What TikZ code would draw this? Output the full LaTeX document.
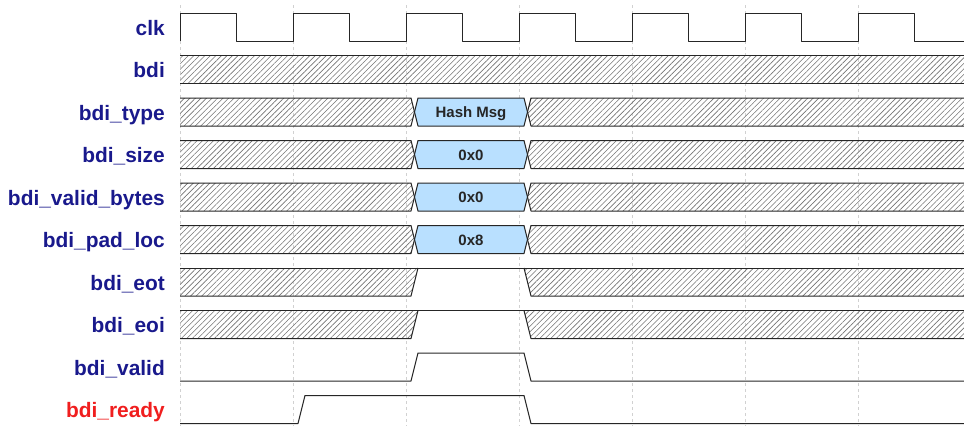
\documentclass[tikz,border=0pt]{standalone}
\usepackage{fontspec}
\setmainfont{Liberation Sans}
\usetikzlibrary{patterns.meta}
\definecolor{sigblue}{RGB}{25,25,140}
\definecolor{sigred}{RGB}{240,30,30}
\definecolor{busblue}{RGB}{185,224,255}

\begin{document}
\begin{tikzpicture}[x=1pt, y=-1pt,
    wire/.style={draw=black!85, line width=1pt, line join=round},
    hatch/.style={pattern={Lines[angle=45,distance=3.9pt,line width=0.6pt]}, pattern color=black!55},
    busdata/.style={fill=busblue, draw=black!85, line width=1pt, line join=round},
    sig/.style={anchor=base east, inner sep=0pt, text=sigblue, font=\fontsize{20.9}{24}\selectfont\bfseries},
    val/.style={anchor=base, inner sep=0pt, text=black!85, font=\fontsize{15}{18}\selectfont\bfseries},
    gridline/.style={draw=black!18, dash pattern=on 3pt off 3pt, line width=1pt}]
  \useasboundingbox (0,0) rectangle (964,426);

  % Cycle grid
  \draw[gridline] (180,5) -- (180,426);
  \draw[gridline] (293,5) -- (293,426);
  \draw[gridline] (406,5) -- (406,426);
  \draw[gridline] (519,5) -- (519,426);
  \draw[gridline] (632,5) -- (632,426);
  \draw[gridline] (745,5) -- (745,426);
  \draw[gridline] (858,5) -- (858,426);

  % Signal names
  \node[sig] (clk) at (165,35) {clk};
  \node[sig] (bdi) at (165,77.5) {bdi};
  \node[sig] (type) at (165,120) {bdi\_type};
  \node[sig] (size) at (165,162.5) {bdi\_size};
  \node[sig] (vbytes) at (165,205) {bdi\_valid\_bytes};
  \node[sig] (padloc) at (165,247.5) {bdi\_pad\_loc};
  \node[sig] (eot) at (165,290) {bdi\_eot};
  \node[sig] (eoi) at (165,332.5) {bdi\_eoi};
  \node[sig] (valid) at (165,375) {bdi\_valid};
  \node[sig, text=sigred] (ready) at (165,417.5) {bdi\_ready};

  % clk
  \draw[wire] (180,41) -- (180,13) -- (236.5,13) -- (236.5,41) -- (293,41) -- (293,13)
    -- (349.5,13) -- (349.5,41) -- (406,41) -- (406,13) -- (462.5,13) -- (462.5,41)
    -- (519,41) -- (519,13) -- (575.5,13) -- (575.5,41) -- (632,41) -- (632,13)
    -- (688.5,13) -- (688.5,41) -- (745,41) -- (745,13) -- (801.5,13) -- (801.5,41)
    -- (858,41) -- (858,13) -- (914.5,13) -- (914.5,41) -- (964,41);

  % bdi
  \fill[hatch] (180,55.5) rectangle (964,83.5);
  \draw[wire] (180,55.5) -- (964,55.5);
  \draw[wire] (180,83.5) -- (964,83.5);

  % bdi_type
  \path[hatch, wire] (180,98) -- (411,98) -- (414.5,112) -- (411,126) -- (180,126);
  \draw[busdata] (414.5,112) -- (418,98) -- (524,98) -- (527.5,112) -- (524,126) -- (418,126) -- cycle;
  \path[hatch, wire] (964,98) -- (531,98) -- (527.5,112) -- (531,126) -- (964,126);
  \node[val] (typeval) at (471,117.5) {Hash Msg};

  % bdi_size
  \path[hatch, wire] (180,140.5) -- (411,140.5) -- (414.5,154.5) -- (411,168.5) -- (180,168.5);
  \draw[busdata] (414.5,154.5) -- (418,140.5) -- (524,140.5) -- (527.5,154.5) -- (524,168.5) -- (418,168.5) -- cycle;
  \path[hatch, wire] (964,140.5) -- (531,140.5) -- (527.5,154.5) -- (531,168.5) -- (964,168.5);
  \node[val] (sizeval) at (471,160) {0x0};

  % bdi_valid_bytes
  \path[hatch, wire] (180,183) -- (411,183) -- (414.5,197) -- (411,211) -- (180,211);
  \draw[busdata] (414.5,197) -- (418,183) -- (524,183) -- (527.5,197) -- (524,211) -- (418,211) -- cycle;
  \path[hatch, wire] (964,183) -- (531,183) -- (527.5,197) -- (531,211) -- (964,211);
  \node[val] (vbytesval) at (471,202.5) {0x0};

  % bdi_pad_loc
  \path[hatch, wire] (180,225.5) -- (411,225.5) -- (414.5,239.5) -- (411,253.5) -- (180,253.5);
  \draw[busdata] (414.5,239.5) -- (418,225.5) -- (524,225.5) -- (527.5,239.5) -- (524,253.5) -- (418,253.5) -- cycle;
  \path[hatch, wire] (964,225.5) -- (531,225.5) -- (527.5,239.5) -- (531,253.5) -- (964,253.5);
  \node[val] (padlocval) at (471,245) {0x8};

  % bdi_eot
  \fill[hatch] (180,268) -- (418,268) -- (411,296) -- (180,296) -- cycle;
  \fill[hatch] (524,268) -- (964,268) -- (964,296) -- (531,296) -- cycle;
  \draw[wire] (180,268) -- (964,268);
  \draw[wire] (180,296) -- (411,296) -- (418,268);
  \draw[wire] (524,268) -- (531,296) -- (964,296);

  % bdi_eoi
  \fill[hatch] (180,310.5) -- (418,310.5) -- (411,338.5) -- (180,338.5) -- cycle;
  \fill[hatch] (524,310.5) -- (964,310.5) -- (964,338.5) -- (531,338.5) -- cycle;
  \draw[wire] (180,310.5) -- (964,310.5);
  \draw[wire] (180,338.5) -- (411,338.5) -- (418,310.5);
  \draw[wire] (524,310.5) -- (531,338.5) -- (964,338.5);

  % bdi_valid
  \draw[wire] (180,381) -- (411,381) -- (418,353) -- (524,353) -- (531,381) -- (964,381);

  % bdi_ready
  \draw[wire] (180,423.5) -- (298,423.5) -- (305,395.5) -- (524,395.5) -- (531,423.5) -- (964,423.5);
\end{tikzpicture}
\end{document}
